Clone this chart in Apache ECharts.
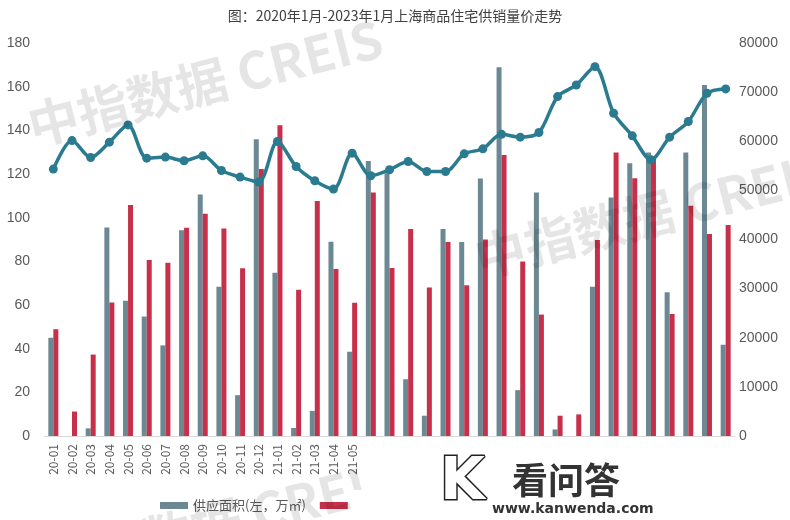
<!DOCTYPE html>
<html><head><meta charset="utf-8">
<script src="https://cdn.jsdelivr.net/npm/echarts@6/dist/echarts.min.js"></script>
<style>html,body{margin:0;padding:0;background:#fff}#c{width:790px;height:520px}</style>
</head><body><div id="c"></div>
<script>
const categories = ['20-01','20-02','20-03','20-04','20-05','20-06','20-07','20-08','20-09','20-10','20-11','20-12',
 '21-01','21-02','21-03','21-04','21-05','21-06','21-07','21-08','21-09','21-10','21-11','21-12',
 '22-01','22-02','22-03','22-04','22-05','22-06','22-07','22-08','22-09','22-10','22-11','22-12','23-01'];
const supplyArea = [45,0,3.5,95.5,62,54.7,41.5,94.2,110.6,68.4,18.7,135.9,
 74.8,3.7,11.5,89,38.6,126,120.3,26,9.3,94.8,88.8,117.9,
 168.9,21,111.5,3,0,68.4,109.2,124.9,129.8,65.8,129.8,160.8,41.8];
const dealArea = [48.9,11.2,37.3,61.1,105.8,80.6,79.4,95.4,101.8,95,76.8,122.3,
 142.3,67,107.6,76.5,61,111.5,77,94.8,68,88.8,69,90,
 128.7,79.9,55.6,9.3,9.9,89.8,129.8,118,127.2,55.9,105.5,92.5,96.6];
const avgPrice = [54330,60140,56690,59810,63330,56560,56770,56020,57030,54040,52700,51700,
 59940,54860,51950,50260,57580,52970,54190,55880,53840,53840,57440,58460,
 61400,60830,61770,69090,71460,75180,65710,61100,56220,60830,64010,69780,70650];
const leftTicks = {min:0, max:180, interval:20};
const rightTicks = {min:0, max:80000, interval:10000};
const visibleLabelCount = 17;

const chart = echarts.init(document.getElementById('c'));
const wm = (x, y) => ({type:'text', x:x, y:y, rotation:0.25, z:100, silent:true,
  style:{text:'中指数据 CREIS', font:'bold 51px "Noto Sans CJK SC", sans-serif', fill:'rgba(0,0,0,0.1)', textVerticalAlign:'bottom'}});
chart.setOption({
  animation:false,
  textStyle:{fontFamily:'"Noto Sans CJK SC", "Liberation Sans", sans-serif'},
  title:{text:'图：2020年1月-2023年1月上海商品住宅供销量价走势', left:'center', top:4,
    textStyle:{fontSize:14, fontWeight:'normal', color:'#404040', fontFamily:'"Noto Sans CJK SC", sans-serif'}},
  grid:{left:44, right:55, top:43, bottom:84, containLabel:false},
  legend:{left:155, top:494, itemWidth:28, itemHeight:7, itemGap:14, icon:'rect',
    textStyle:{fontSize:13, color:'#595959'},
    data:['供应面积(左，万㎡)','成交面积(左，万㎡)','成交均价(右，元/㎡)']},
  xAxis:{type:'category', data:categories, axisTick:{show:false},
    axisLine:{lineStyle:{color:'#d9d9d9'}},
    axisLabel:{rotate:90, interval:0, fontSize:12, color:'#595959', margin:8,
      formatter:(v, i) => i < visibleLabelCount ? v : ''}},
  yAxis:[
    {type:'value', min:leftTicks.min, max:leftTicks.max, interval:leftTicks.interval,
      splitLine:{show:false}, axisLine:{show:false}, axisTick:{show:false},
      axisLabel:{fontSize:14, color:'#595959', margin:14, fontFamily:'"Liberation Sans", sans-serif'}},
    {type:'value', min:rightTicks.min, max:rightTicks.max, interval:rightTicks.interval,
      splitLine:{show:false}, axisLine:{show:false}, axisTick:{show:false},
      axisLabel:{fontSize:14, color:'#595959', margin:4, fontFamily:'"Liberation Sans", sans-serif',
        formatter:(v) => String(v)}}
  ],
  series:[
    {name:'供应面积(左，万㎡)', type:'bar', data:supplyArea, barWidth:5, barGap:'0%',
      itemStyle:{color:'#6b8893'}},
    {name:'成交面积(左，万㎡)', type:'bar', data:dealArea, barWidth:5, barGap:'0%',
      itemStyle:{color:'#c7304a'}},
    {name:'成交均价(右，元/㎡)', type:'line', yAxisIndex:1, data:avgPrice, smooth:0.3,
      symbol:'circle', symbolSize:9, lineStyle:{width:3.5, color:'#2b7b90'},
      itemStyle:{color:'#2b7b90'}, z:5}
  ],
  graphic:[
    wm(35, 152), wm(482, 284), wm(50, 592),
    {type:'rect', shape:{x:362, y:441, width:428, height:79}, style:{fill:'#fff'}, z:200, silent:true},
    {type:'rect', shape:{x:352, y:490, width:438, height:30}, style:{fill:'#fff'}, z:200, silent:true},
    {type:'text', x:440, y:455, z:201, style:{text:'K', font:'bold 58px "DejaVu Sans", sans-serif', fill:'#fff', stroke:'#222', lineWidth:3}},
    {type:'text', x:512, y:462, z:201, style:{text:'看问答', font:'bold 36px "Noto Sans CJK SC", sans-serif', fill:'#333'}},
    {type:'text', x:492, y:502, z:201, style:{text:'www.kanwenda.com', font:'bold 14px "DejaVu Sans", sans-serif', fill:'#333'}}
  ]
});
</script></body></html>
